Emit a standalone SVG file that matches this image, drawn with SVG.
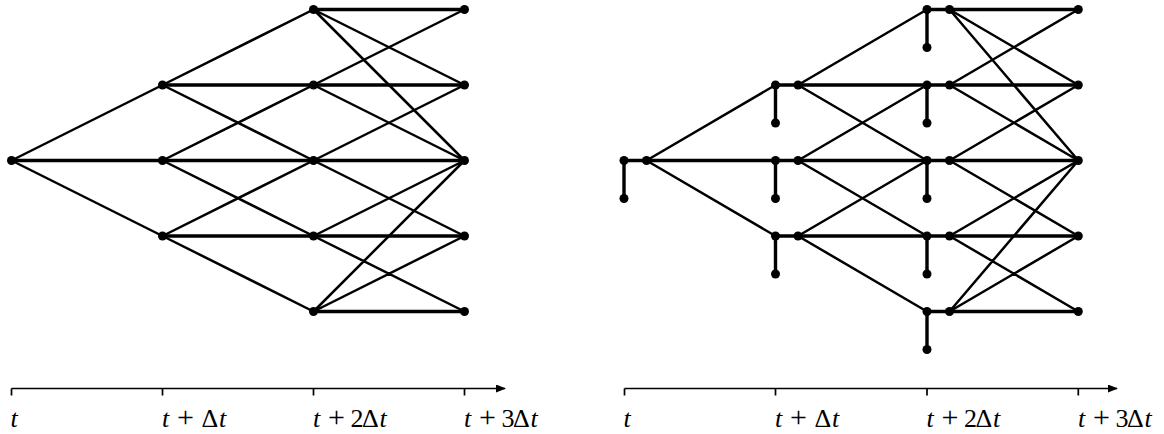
<svg xmlns="http://www.w3.org/2000/svg" width="1164" height="434" viewBox="0 0 1164 434">
<style>
.h{stroke:#000;stroke-width:3.4;fill:none;stroke-linecap:round}
.d{stroke:#000;stroke-width:2.5;fill:none;stroke-linecap:round}
.ax{stroke:#000;stroke-width:1.7;fill:none}
.n{fill:#000}
.lb{font-family:"Liberation Serif","Times New Roman",serif;font-size:26px;fill:#000}
.it{font-style:italic}
.pl{font-size:30px}
</style>
<defs>
<marker id="arr" viewBox="0 0 10 8" refX="9" refY="4" markerWidth="10" markerHeight="8" markerUnits="userSpaceOnUse" orient="auto">
<path d="M0,0 L10,4 L0,8 Z" fill="#000"/>
</marker>
</defs>

<g id="connectors">
<!-- left tree horizontals -->
<path class="h" d="M11.5,160.5H162.5 M162.5,85H313.5 M162.5,160.5H313.5 M162.5,236H313.5 M313.5,9.5H464.5 M313.5,85H464.5 M313.5,160.5H464.5 M313.5,236H464.5 M313.5,311.5H464.5"/>
<!-- left tree diagonals -->
<path class="d" d="M11.5,160.5L162.5,85 M11.5,160.5L162.5,236
M162.5,85L313.5,9.5 M162.5,85L313.5,160.5
M162.5,160.5L313.5,85 M162.5,160.5L313.5,236
M162.5,236L313.5,160.5 M162.5,236L313.5,311.5
M313.5,9.5L464.5,85 M313.5,9.5L464.5,160.5
M313.5,85L464.5,9.5 M313.5,85L464.5,160.5
M313.5,160.5L464.5,85 M313.5,160.5L464.5,236
M313.5,236L464.5,160.5 M313.5,236L464.5,311.5
M313.5,311.5L464.5,160.5 M313.5,311.5L464.5,236"/>
<!-- right tree short links and stubs -->
<path class="h" d="M624,160.5H646.5 M624,160.5V198.5
M775.5,85H798 M775.5,85V123 M775.5,160.5H798 M775.5,160.5V198.5 M775.5,236H798 M775.5,236V274
M927,9.5H949.5 M927,9.5V47.5 M927,85H949.5 M927,85V123 M927,160.5H949.5 M927,160.5V198.5 M927,236H949.5 M927,236V274 M927,311.5H949.5 M927,311.5V349.5"/>
<!-- right tree horizontals -->
<path class="h" d="M646.5,160.5H775.5 M798,85H927 M798,160.5H927 M798,236H927 M949.5,9.5H1078.3 M949.5,85H1078.3 M949.5,160.5H1078.3 M949.5,236H1078.3 M949.5,311.5H1078.3"/>
<!-- right tree diagonals -->
<path class="d" d="M646.5,160.5L775.5,85 M646.5,160.5L775.5,236
M798,85L927,9.5 M798,85L927,160.5
M798,160.5L927,85 M798,160.5L927,236
M798,236L927,160.5 M798,236L927,311.5
M949.5,9.5L1078.3,85 M949.5,9.5L1078.3,160.5
M949.5,85L1078.3,9.5 M949.5,85L1078.3,160.5
M949.5,160.5L1078.3,85 M949.5,160.5L1078.3,236
M949.5,236L1078.3,160.5 M949.5,236L1078.3,311.5
M949.5,311.5L1078.3,160.5 M949.5,311.5L1078.3,236"/>
</g>

<!-- left tree nodes -->
<g id="L0-2"><circle class="n" cx="11.5" cy="160.5" r="4.5"/></g>
<g id="L1-1"><circle class="n" cx="162.5" cy="85" r="4.5"/></g>
<g id="L1-2"><circle class="n" cx="162.5" cy="160.5" r="4.5"/></g>
<g id="L1-3"><circle class="n" cx="162.5" cy="236" r="4.5"/></g>
<g id="L2-0"><circle class="n" cx="313.5" cy="9.5" r="4.5"/></g>
<g id="L2-1"><circle class="n" cx="313.5" cy="85" r="4.5"/></g>
<g id="L2-2"><circle class="n" cx="313.5" cy="160.5" r="4.5"/></g>
<g id="L2-3"><circle class="n" cx="313.5" cy="236" r="4.5"/></g>
<g id="L2-4"><circle class="n" cx="313.5" cy="311.5" r="4.5"/></g>
<g id="L3-0"><circle class="n" cx="464.5" cy="9.5" r="4.5"/></g>
<g id="L3-1"><circle class="n" cx="464.5" cy="85" r="4.5"/></g>
<g id="L3-2"><circle class="n" cx="464.5" cy="160.5" r="4.5"/></g>
<g id="L3-3"><circle class="n" cx="464.5" cy="236" r="4.5"/></g>
<g id="L3-4"><circle class="n" cx="464.5" cy="311.5" r="4.5"/></g>

<!-- right tree nodes -->
<g id="R0-2"><circle class="n" cx="624" cy="160.5" r="4.5"/><circle class="n" cx="646.5" cy="160.5" r="4.5"/><circle class="n" cx="624" cy="198.5" r="4.5"/></g>
<g id="R1-1"><circle class="n" cx="775.5" cy="85" r="4.5"/><circle class="n" cx="798" cy="85" r="4.5"/><circle class="n" cx="775.5" cy="123" r="4.5"/></g>
<g id="R1-2"><circle class="n" cx="775.5" cy="160.5" r="4.5"/><circle class="n" cx="798" cy="160.5" r="4.5"/><circle class="n" cx="775.5" cy="198.5" r="4.5"/></g>
<g id="R1-3"><circle class="n" cx="775.5" cy="236" r="4.5"/><circle class="n" cx="798" cy="236" r="4.5"/><circle class="n" cx="775.5" cy="274" r="4.5"/></g>
<g id="R2-0"><circle class="n" cx="927" cy="9.5" r="4.5"/><circle class="n" cx="949.5" cy="9.5" r="4.5"/><circle class="n" cx="927" cy="47.5" r="4.5"/></g>
<g id="R2-1"><circle class="n" cx="927" cy="85" r="4.5"/><circle class="n" cx="949.5" cy="85" r="4.5"/><circle class="n" cx="927" cy="123" r="4.5"/></g>
<g id="R2-2"><circle class="n" cx="927" cy="160.5" r="4.5"/><circle class="n" cx="949.5" cy="160.5" r="4.5"/><circle class="n" cx="927" cy="198.5" r="4.5"/></g>
<g id="R2-3"><circle class="n" cx="927" cy="236" r="4.5"/><circle class="n" cx="949.5" cy="236" r="4.5"/><circle class="n" cx="927" cy="274" r="4.5"/></g>
<g id="R2-4"><circle class="n" cx="927" cy="311.5" r="4.5"/><circle class="n" cx="949.5" cy="311.5" r="4.5"/><circle class="n" cx="927" cy="349.5" r="4.5"/></g>
<g id="R3-0"><circle class="n" cx="1078.3" cy="9.5" r="4.5"/></g>
<g id="R3-1"><circle class="n" cx="1078.3" cy="85" r="4.5"/></g>
<g id="R3-2"><circle class="n" cx="1078.3" cy="160.5" r="4.5"/></g>
<g id="R3-3"><circle class="n" cx="1078.3" cy="236" r="4.5"/></g>
<g id="R3-4"><circle class="n" cx="1078.3" cy="311.5" r="4.5"/></g>

<!-- left axis -->
<g id="axis-left">
<path class="ax" d="M11.5,388.5H505" marker-end="url(#arr)"/>
<path class="ax" d="M11.5,388.5V395.5 M162.5,388.5V395.5 M313.5,388.5V395.5 M464.5,388.5V395.5"/>
<text class="lb" y="427"><tspan class="it" x="10.5">t</tspan></text>
<text class="lb" y="427"><tspan class="it" x="162">t</tspan><tspan class="pl" x="177">+</tspan><tspan x="201.5">Δ</tspan><tspan class="it" x="219">t</tspan></text>
<text class="lb" y="427"><tspan class="it" x="313">t</tspan><tspan class="pl" x="328">+</tspan><tspan x="350.5">2</tspan><tspan x="362">Δ</tspan><tspan class="it" x="379.5">t</tspan></text>
<text class="lb" y="427"><tspan class="it" x="464">t</tspan><tspan class="pl" x="479">+</tspan><tspan x="501.5">3</tspan><tspan x="513">Δ</tspan><tspan class="it" x="530.5">t</tspan></text>
</g>

<!-- right axis -->
<g id="axis-right">
<path class="ax" d="M624.5,388.5H1117" marker-end="url(#arr)"/>
<path class="ax" d="M624.5,388.5V395.5 M775.5,388.5V395.5 M927,388.5V395.5 M1078.3,388.5V395.5"/>
<text class="lb" y="427"><tspan class="it" x="623.5">t</tspan></text>
<text class="lb" y="427"><tspan class="it" x="775">t</tspan><tspan class="pl" x="790">+</tspan><tspan x="814.5">Δ</tspan><tspan class="it" x="832">t</tspan></text>
<text class="lb" y="427"><tspan class="it" x="926.5">t</tspan><tspan class="pl" x="941.5">+</tspan><tspan x="964">2</tspan><tspan x="975.5">Δ</tspan><tspan class="it" x="993">t</tspan></text>
<text class="lb" y="427"><tspan class="it" x="1078">t</tspan><tspan class="pl" x="1093">+</tspan><tspan x="1115.5">3</tspan><tspan x="1127">Δ</tspan><tspan class="it" x="1144.5">t</tspan></text>
</g>
</svg>
